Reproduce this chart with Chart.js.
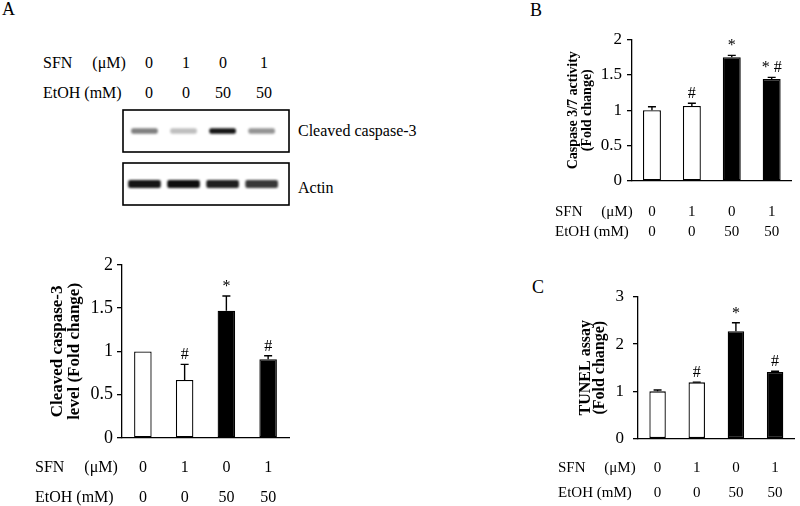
<!DOCTYPE html>
<html>
<head>
<meta charset="utf-8">
<script src="https://cdn.jsdelivr.net/npm/chart.js@4.4.1/dist/chart.umd.min.js"></script>
<style>
  body { margin: 0; background: #fff; }
  #fig { position: relative; width: 800px; height: 506px; overflow: hidden; font-family: "Liberation Serif", serif; color: #000; }
  #fig canvas, #fig .lbl { position: absolute; }
  .lbl { font-size: 16px; line-height: 1; white-space: pre; }
  .c { transform: translate(-50%, -50%); }
  .l { transform: translate(0, -50%); }
</style>
</head>
<body>
<div id="fig">
  <div class="lbl" style="left:2px;top:0px;font-size:18px">A</div>
  <div class="lbl" style="left:530px;top:1px;font-size:18px">B</div>
  <div class="lbl" style="left:532px;top:278px;font-size:18px">C</div>
  <div id="topRows"></div>
  <div class="lbl l" style="left:298px;top:131px">Cleaved caspase-3</div>
  <div class="lbl l" style="left:298px;top:188px">Actin</div>
  <canvas id="blot1" width="176" height="52" style="left:118px;top:105px"></canvas>
  <canvas id="blot2" width="176" height="52" style="left:118px;top:158px"></canvas>
  <canvas id="chartA" width="400" height="256" style="left:0px;top:250px"></canvas>
  <canvas id="chartB" width="310" height="250" style="left:490px;top:0px"></canvas>
  <canvas id="chartC" width="310" height="256" style="left:490px;top:250px"></canvas>
</div>
<script>
// treatment groups
const sfnDose = ['0', '1', '0', '1'];
const etohDose = ['0', '0', '50', '50'];
const rowNames = ['SFN     (\u03bcM)', 'EtOH (mM)'];

// A: cleaved caspase-3 densitometry
const cleavedLevel = [1.0, 0.67, 1.47, 0.91];
const cleavedErr = [0, 0.18, 0.17, 0.04];
const cleavedMarks = ['', '#', '*', '#'];

// B: caspase 3/7 activity
const caspActivity = [1.0, 1.06, 1.75, 1.44];
const caspErr = [0.05, 0.04, 0.025, 0.025];
const caspMarks = ['', '#', '*', '* #'];

// C: TUNEL assay
const tunel = [1.0, 1.19, 2.27, 1.41];
const tunelErr = [0.03, 0.005, 0.18, 0.015];
const tunelMarks = ['', '#', '*', '#'];

// western blot band darkness (0..1)
const casp3Band = [0.5, 0.25, 0.92, 0.42];
const actinBand = [0.92, 0.95, 0.88, 0.78];

const fillCols = ['#ffffff', '#ffffff', '#000000', '#000000'];
const serif = '"Liberation Serif", "Times New Roman", serif';

// dose rows over the blot
const topRows = document.getElementById('topRows');
const topCols = [149, 186, 223, 264];
[[sfnDose, 63], [etohDose, 93]].forEach(([vals, y], r) => {
  let d = document.createElement('div');
  d.className = 'lbl l';
  d.style.left = '43px'; d.style.top = y + 'px';
  d.textContent = rowNames[r];
  topRows.appendChild(d);
  vals.forEach((v, i) => {
    d = document.createElement('div');
    d.className = 'lbl c';
    d.style.left = topCols[i] + 'px'; d.style.top = y + 'px';
    d.textContent = v;
    topRows.appendChild(d);
  });
});

// error bars (upper only) plus significance marks
const errMarks = {
  id: 'errMarks',
  afterDatasetsDraw(chart, args, o) {
    const ctx = chart.ctx, ys = chart.scales.y;
    const meta = chart.getDatasetMeta(0);
    const vals = chart.data.datasets[0].data;
    ctx.save();
    ctx.strokeStyle = '#000';
    ctx.lineWidth = 1.4;
    ctx.fillStyle = '#000';
    ctx.font = o.font + 'px ' + serif;
    ctx.textAlign = 'center';
    ctx.textBaseline = 'alphabetic';
    meta.data.forEach((bar, i) => {
      const top = ys.getPixelForValue(vals[i] + o.err[i]);
      if (o.err[i] > 0) {
        ctx.beginPath();
        ctx.moveTo(bar.x, bar.y);
        ctx.lineTo(bar.x, top);
        ctx.moveTo(bar.x - 4, top);
        ctx.lineTo(bar.x + 4, top);
        ctx.stroke();
      }
      if (o.marks[i]) ctx.fillText(o.marks[i], bar.x, top - 5);
    });
    ctx.restore();
  }
};

// row captions left of the x tick columns
const rowCaps = {
  id: 'rowCaps',
  afterDraw(chart, args, o) {
    const ctx = chart.ctx;
    const b = chart.chartArea.bottom;
    ctx.save();
    ctx.fillStyle = '#000';
    ctx.font = o.font + 'px ' + serif;
    ctx.textBaseline = 'middle';
    ctx.textAlign = 'left';
    rowNames.forEach((t, r) => ctx.fillText(t, o.x, b + o.first + r * o.gap));
    ctx.restore();
  }
};

function barChart(id, vals, err, marks, g) {
  return new Chart(document.getElementById(id), {
    type: 'bar',
    data: {
      labels: sfnDose.map((s, i) => [s, etohDose[i]]),
      datasets: [{
        data: vals,
        backgroundColor: fillCols,
        borderColor: '#000',
        borderWidth: 1.3,
        borderSkipped: false,
        barPercentage: g.barPct,
        categoryPercentage: 1
      }]
    },
    options: {
      responsive: false,
      animation: false,
      layout: { padding: { left: 0, top: g.top, right: g.right, bottom: 0 } },
      plugins: {
        legend: { display: false },
        tooltip: { enabled: false },
        errMarks: { err: err, marks: marks, font: 16 },
        rowCaps: { x: g.capX, first: g.first, gap: g.gap, font: g.rowFont }
      },
      scales: {
        x: {
          grid: { display: false, drawTicks: false },
          border: { display: true, color: '#000', width: 1.3 },
          ticks: {
            color: '#000',
            padding: g.first - g.gap / 2,
            font: { family: serif, size: g.rowFont, lineHeight: g.gap / g.rowFont }
          },
          afterFit: s => { s.height = g.xh; }
        },
        y: {
          min: 0, max: g.max,
          grid: { drawOnChartArea: false, tickLength: 5, color: '#000', lineWidth: 1.3 },
          border: { color: '#000', width: 1.3 },
          ticks: {
            stepSize: g.step, color: '#000', padding: g.tickPad,
            font: { family: serif, size: g.tickFont },
            callback: v => String(Number(v))
          },
          title: {
            display: true, text: g.title, color: '#000',
            padding: { top: g.titlePad, bottom: 0 },
            font: { family: serif, size: g.titleFont, weight: 'bold', lineHeight: g.titleLh / g.titleFont }
          },
          afterFit: s => { s.width = g.yw; }
        }
      }
    },
    plugins: [errMarks, rowCaps]
  });
}

barChart('chartA', cleavedLevel, cleavedErr, cleavedMarks, {
  top: 13, right: 111, xh: 68, yw: 122, max: 2, step: 0.5,
  barPct: 0.42, capX: 35, first: 30, gap: 30, rowFont: 16,
  tickPad: 4, tickFont: 18,
  title: ['Cleaved caspase-3', 'level (Fold change)'], titleFont: 17, titleLh: 17, titlePad: 49.5
});

barChart('chartB', caspActivity, caspErr, caspMarks, {
  top: 39.5, right: 1, xh: 69, yw: 142, max: 2, step: 0.5,
  barPct: 0.45, capX: 65, first: 30.7, gap: 20, rowFont: 15,
  tickPad: 5, tickFont: 17,
  title: ['Caspase 3/7 activity', '(Fold change)'], titleFont: 14, titleLh: 14.7, titlePad: 75.6
});

barChart('chartC', tunel, tunelErr, tunelMarks, {
  top: 46.7, right: 5, xh: 67.3, yw: 148, max: 3, step: 1,
  barPct: 0.42, capX: 68, first: 29.3, gap: 25, rowFont: 15,
  tickPad: 9, tickFont: 17,
  title: ['TUNEL assay', '(Fold change)'], titleFont: 16, titleLh: 14.4, titlePad: 88.5
});

// blot panels: each band is a floating bar, softened by a blur
const blotLook = {
  id: 'blotLook',
  beforeDatasetsDraw(chart) {
    chart.ctx.save();
    chart.ctx.filter = 'blur(1.3px)';
  },
  afterDatasetsDraw(chart) {
    chart.ctx.restore();
  },
  afterDraw(chart) {
    const a = chart.chartArea, ctx = chart.ctx;
    ctx.save();
    ctx.strokeStyle = '#000';
    ctx.lineWidth = 1.6;
    ctx.strokeRect(a.left, a.top, a.right - a.left, a.bottom - a.top);
    ctx.restore();
  }
};

function blotChart(id, dark, half, thick) {
  return new Chart(document.getElementById(id), {
    type: 'bar',
    data: {
      datasets: [{
        data: dark.map((v, i) => ({ x: i, y: [0.5 - half, 0.5 + half] })),
        backgroundColor: dark.map(v => 'rgba(0,0,0,' + v + ')'),
        borderWidth: 0,
        borderRadius: 2,
        borderSkipped: false,
        barThickness: thick
      }]
    },
    options: {
      responsive: false,
      animation: false,
      layout: { padding: 5 },
      plugins: { legend: { display: false }, tooltip: { enabled: false } },
      scales: {
        x: { type: 'linear', min: -0.55, max: 3.7, offset: false, display: false },
        y: { min: 0, max: 1, display: false }
      }
    },
    plugins: [blotLook]
  });
}

blotChart('blot1', casp3Band, 0.055, 26);
blotChart('blot2', actinBand, 0.09, 32);
</script>
</body>
</html>
